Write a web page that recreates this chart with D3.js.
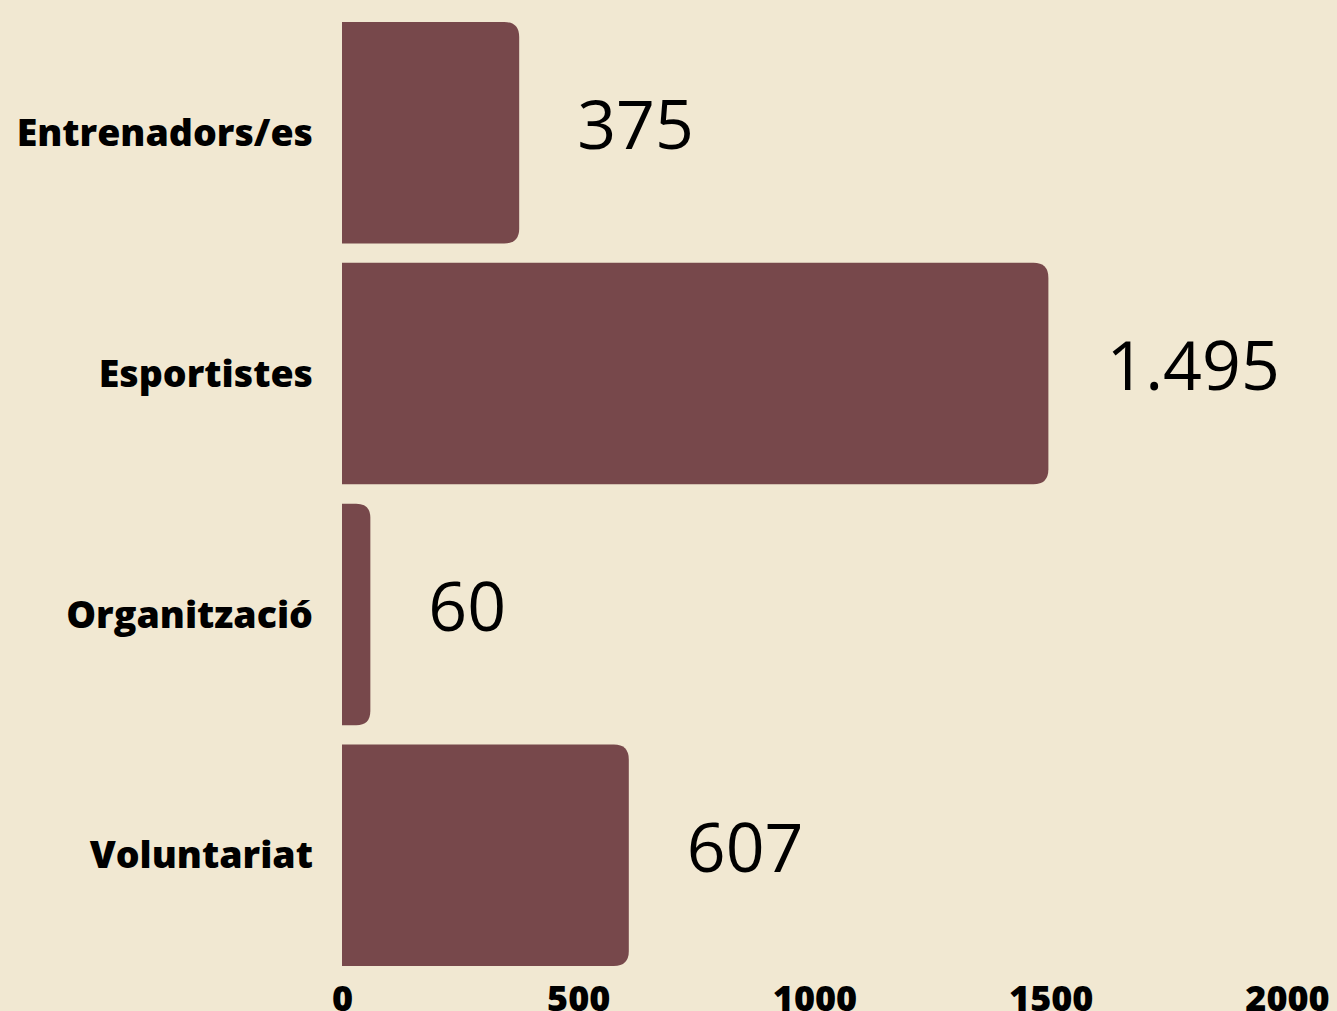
<!DOCTYPE html>
<html><head><meta charset="utf-8">
<script src="https://cdn.jsdelivr.net/npm/d3@7"></script>
<style>
html,body{margin:0;padding:0;background:#f1e8d2;}
svg{display:block;}
</style></head>
<body>
<svg id="chart" width="1337" height="1011"></svg>
<script>
const categories = ["Entrenadors/es", "Esportistes", "Organització", "Voluntariat"];
const values = [375, 1495, 60, 607];
const valueLabels = ["375", "1.495", "60", "607"];
const tickValues = [0, 500, 1000, 1500, 2000];

const svg = d3.select("#chart");
const W = 1337, H = 1011;
svg.append("rect").attr("width", W).attr("height", H).attr("fill", "#f1e8d2");

const x = d3.scaleLinear().domain([0, 2000]).range([342, 1287]);
const y = d3.scaleBand().domain(categories).range([22, 966]).paddingInner(0.08).paddingOuter(0);

const r = 15;
function barPath(x0, x1, y0, h) {
  const rr = Math.min(r, (x1 - x0) / 2, h / 2);
  return `M${x0},${y0}H${x1 - rr}Q${x1},${y0} ${x1},${y0 + rr}V${y0 + h - rr}Q${x1},${y0 + h} ${x1 - rr},${y0 + h}H${x0}Z`;
}

svg.append("g").selectAll("path").data(categories).join("path")
  .attr("d", (c, i) => barPath(x(0), x(values[i]), y(c), y.bandwidth()))
  .attr("fill", "#77484b");

svg.append("g").selectAll("text").data(categories).join("text")
  .attr("x", 313)
  .attr("y", c => y(c) + y.bandwidth() / 2)
  .attr("dy", "0.35em")
  .attr("text-anchor", "end")
  .attr("font-family", "'Open Sans', sans-serif")
  .attr("font-weight", 800)
  .attr("font-size", 37.5)
  .attr("fill", "#000")
  .text(c => c);

svg.append("g").selectAll("text").data(categories).join("text")
  .attr("x", (c, i) => x(values[i]) + 58)
  .attr("y", c => y(c) + y.bandwidth() / 2 - 8)
  .attr("dy", "0.36em")
  .attr("text-anchor", "start")
  .attr("font-family", "'Open Sans', sans-serif")
  .attr("font-weight", 400)
  .attr("font-size", 68)
  .attr("fill", "#000")
  .text((c, i) => valueLabels[i]);

const axis = d3.axisBottom(x).tickValues(tickValues).tickSize(0).tickPadding(0).tickFormat(d3.format("d"));
const ag = svg.append("g").attr("transform", "translate(0,985)").call(axis);
ag.select(".domain").remove();
ag.selectAll("text")
  .attr("y", 0)
  .attr("dy", "0.71em")
  .attr("font-family", "'Open Sans', sans-serif")
  .attr("font-weight", 800)
  .attr("font-size", 36)
  .attr("fill", "#000");
</script>
</body></html>
